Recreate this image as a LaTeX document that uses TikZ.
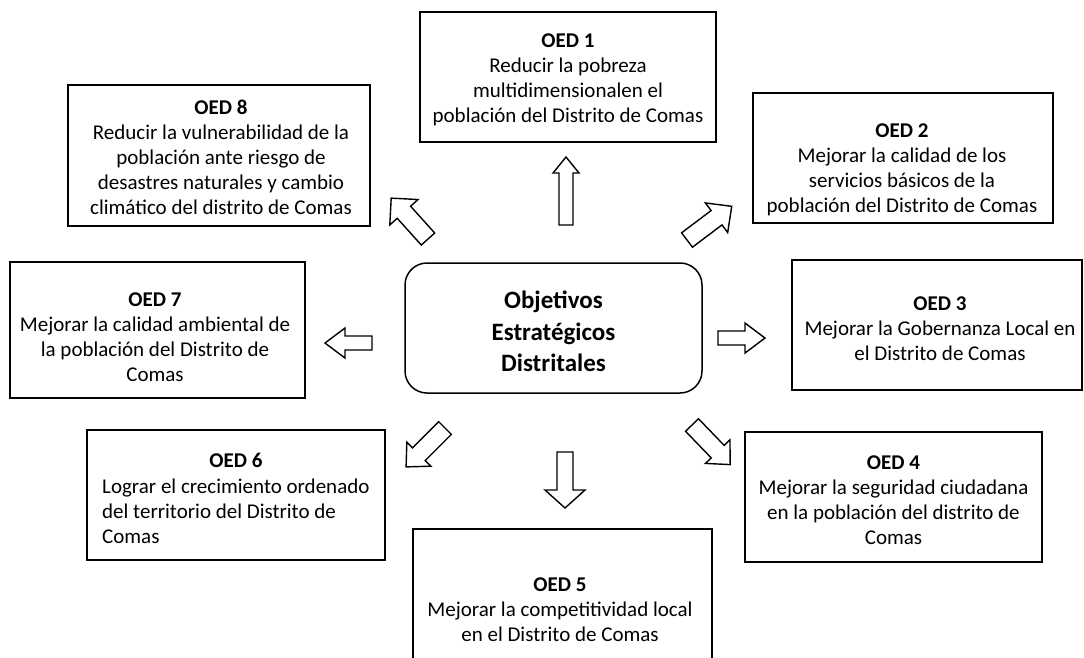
\documentclass[tikz,border=0pt]{standalone}
\usepackage{fontspec}
\setmainfont{Carlito}
\newcommand{\blockarr}[7]{% tail x, tail y, angle, length, head length, shaft width, head width
  \draw[barrow, shift={(#1,#2)}, rotate=#3]
    (0,{-#6/2}) -- ({#4-#5},{-#6/2}) -- ({#4-#5},{-#7/2}) -- (#4,0)
    -- ({#4-#5},{#7/2}) -- ({#4-#5},{#6/2}) -- (0,{#6/2}) -- cycle;}
\begin{document}
\begin{tikzpicture}[x=1pt,y=-1pt,
  oedbox/.style={draw, line width=1.5pt, inner sep=0pt},
  txt/.style={align=center, inner sep=0pt, font=\fontsize{21}{25}\selectfont},
  ctxt/.style={align=center, inner sep=0pt, font=\fontsize{25}{31.5}\selectfont\bfseries},
  barrow/.style={draw, fill=white, line width=1.4pt, line join=miter}]
\useasboundingbox (0,0) rectangle (1084,657);
% boxes
\node[oedbox, minimum width=296, minimum height=130] (b1) at (568,77) {};
\node[oedbox, minimum width=300, minimum height=130] (b2) at (903,158) {};
\node[oedbox, minimum width=290, minimum height=130] (b3) at (937,325) {};
\node[oedbox, minimum width=297, minimum height=130] (b4) at (893.5,497) {};
\node[oedbox, minimum width=299, minimum height=150, anchor=north] (b5) at (562.5,528) {};
\node[oedbox, minimum width=298, minimum height=130] (b6) at (236,495) {};
\node[oedbox, minimum width=295, minimum height=136] (b7) at (157.5,330) {};
\node[oedbox, minimum width=302, minimum height=141] (b8) at (219,155.5) {};
\node[oedbox, rounded corners=22pt, minimum width=297, minimum height=130] (c) at (553.5,328) {};
% texts
\node[ctxt] (ct) at (553.5,331.5) {Objetivos\\Estratégicos\\Distritales};
\node[txt] (t1) at (568,80) {\textbf{OED 1}\\Reducir la pobreza\\multidimensionalen el\\población del Distrito de Comas};
\node[txt] (t2) at (902,170) {\textbf{OED 2}\\Mejorar la calidad de los\\servicios básicos de la\\población del Distrito de Comas};
\node[txt] (t3) at (940,329) {\textbf{OED 3}\\Mejorar la Gobernanza Local en\\el Distrito de Comas};
\node[txt] (t4) at (893.5,500) {\textbf{OED 4}\\Mejorar la seguridad ciudadana\\en la población del distrito de\\Comas};
\node[txt] (t5) at (560,610) {\textbf{OED 5}\\Mejorar la competitividad local\\en el Distrito de Comas};
\node[txt] (t6t) at (236,460) {\textbf{OED 6}};
\node[txt, align=left, anchor=west] (t6) at (102,511) {Lograr el crecimiento ordenado\\del territorio del Distrito de\\Comas};
\node[txt] (t7) at (155,337.5) {\textbf{OED 7}\\Mejorar la calidad ambiental de\\la población del Distrito de\\Comas};
\node[txt] (t8) at (221,157) {\textbf{OED 8}\\Reducir la vulnerabilidad de la\\población ante riesgo de\\desastres naturales y cambio\\climático del distrito de Comas};
% block arrows
\blockarr{566}{225}{90}{68}{16}{14}{26}
\blockarr{565}{452}{270}{56}{18}{16}{40}
\blockarr{372}{343}{180}{47}{20}{14}{30}
\blockarr{718}{338}{0}{47}{20}{14}{30}
\blockarr{428}{239}{132}{55}{19}{18}{38}
\blockarr{687}{240}{37}{56}{19}{18}{37}
\blockarr{445}{428}{225}{55}{18}{18}{34}
\blockarr{692}{425}{314}{55}{18}{18}{34}
\end{tikzpicture}
\end{document}
